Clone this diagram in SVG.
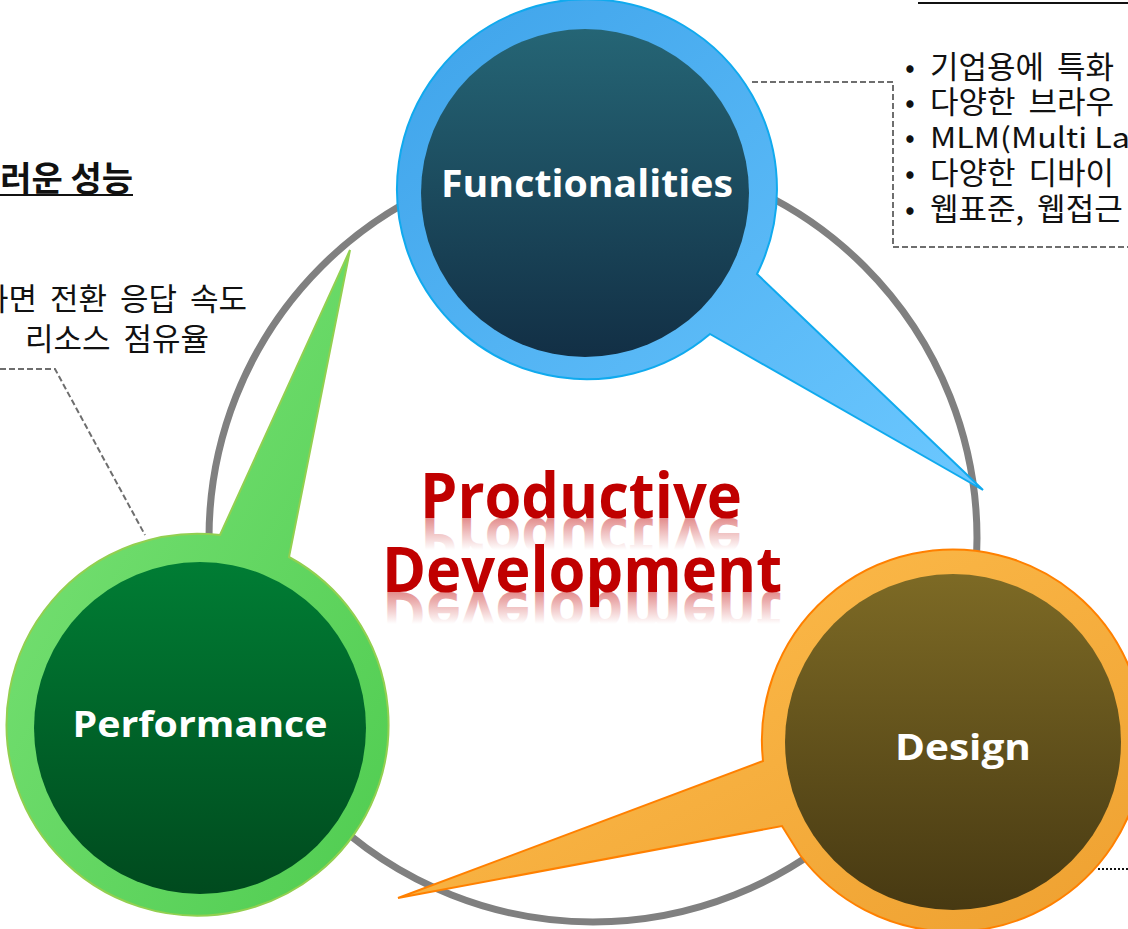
<svg xmlns="http://www.w3.org/2000/svg" width="1128" height="929" viewBox="0 0 1128 929">
<defs>
<style>
.lbl{font-family:"Open Sans","Noto Sans",sans-serif;font-weight:bold;fill:#ffffff;text-anchor:middle}
.kr{font-family:"Noto Sans CJK KR","Noto Sans",sans-serif;font-size:31px;fill:#111111}
.krl{font-family:"Noto Sans CJK KR","Noto Sans",sans-serif;font-size:31px;fill:#111111;text-anchor:end}
.big{font-family:"Open Sans","Noto Sans",sans-serif;font-weight:bold;font-size:62px;text-anchor:middle}
.dash{fill:none;stroke:#6e6e6e;stroke-width:2;stroke-dasharray:6 3}
</style>
<linearGradient id="gBlueO" x1="0" y1="0" x2="1" y2="1">
<stop offset="0" stop-color="#3ea3ea"/><stop offset="1" stop-color="#6cc8ff"/>
</linearGradient>
<linearGradient id="gBlueI" x1="0" y1="0" x2="0" y2="1">
<stop offset="0" stop-color="#256575"/><stop offset="1" stop-color="#122f45"/>
</linearGradient>
<linearGradient id="gGreenO" x1="0" y1="0" x2="1" y2="1">
<stop offset="0" stop-color="#7ee47a"/><stop offset="1" stop-color="#4fcc50"/>
</linearGradient>
<linearGradient id="gGreenI" x1="0" y1="0" x2="0" y2="1">
<stop offset="0" stop-color="#007d34"/><stop offset="1" stop-color="#004a1e"/>
</linearGradient>
<linearGradient id="gOrangeO" x1="0" y1="0" x2="1" y2="1">
<stop offset="0" stop-color="#ffc050"/><stop offset="1" stop-color="#eea030"/>
</linearGradient>
<linearGradient id="gOrangeI" x1="0" y1="0" x2="0" y2="1">
<stop offset="0" stop-color="#7d6a25"/><stop offset="1" stop-color="#473912"/>
</linearGradient>
<linearGradient id="gRef1" gradientUnits="userSpaceOnUse" x1="0" y1="518" x2="0" y2="486">
<stop offset="0" stop-color="#c00000" stop-opacity="0.45"/><stop offset="1" stop-color="#c00000" stop-opacity="0"/>
</linearGradient>
<linearGradient id="gRef2" gradientUnits="userSpaceOnUse" x1="0" y1="592" x2="0" y2="560">
<stop offset="0" stop-color="#c00000" stop-opacity="0.45"/><stop offset="1" stop-color="#c00000" stop-opacity="0"/>
</linearGradient>
</defs>

<rect width="1128" height="929" fill="#ffffff"/>

<g id="cycle-ring">
<circle cx="593" cy="538" r="384" fill="none" stroke="#808080" stroke-width="7"/>
</g>

<g id="connectors">
<polyline class="dash" points="752,82 893,82 893,247 1128,247"/>
<polyline class="dash" points="0,369 55,369 145,535"/>
<line x1="1098" y1="869" x2="1128" y2="869" stroke="#111" stroke-width="2" stroke-dasharray="2 2"/>
</g>

<g id="node-functionalities">
<path d="M710,334 L983,490 L757,274 A190 190 0 1 0 710,334 Z" fill="url(#gBlueO)" stroke="#10aaee" stroke-width="2"/>
<circle cx="585" cy="193" r="164" fill="url(#gBlueI)"/>
<text class="lbl" x="587" y="197" font-size="38" textLength="292" lengthAdjust="spacingAndGlyphs">Functionalities</text>
</g>

<g id="node-performance">
<path d="M220,535 L350,250 L289,557 A191 191 0 1 1 220,535 Z" fill="url(#gGreenO)" stroke="#92d050" stroke-width="2"/>
<circle cx="200" cy="728" r="166" fill="url(#gGreenI)"/>
<text class="lbl" x="200" y="737" font-size="36" textLength="255" lengthAdjust="spacingAndGlyphs">Performance</text>
</g>

<g id="node-design">
<path d="M763,761 L398,898 L782,826 L800,855 A191 191 0 1 0 763,761 Z" fill="url(#gOrangeO)" stroke="#ff8000" stroke-width="2"/>
<circle cx="953" cy="742" r="168" fill="url(#gOrangeI)"/>
<text class="lbl" x="963" y="760" font-size="36" textLength="136" lengthAdjust="spacingAndGlyphs">Design</text>
</g>

<g id="center-title">
<g transform="translate(0,1036) scale(1,-1)">
<text class="big" x="581" y="518" fill="url(#gRef1)" textLength="322" lengthAdjust="spacingAndGlyphs">Productive</text>
</g>
<g transform="translate(0,1184) scale(1,-1)">
<text class="big" x="582" y="592" fill="url(#gRef2)" textLength="400" lengthAdjust="spacingAndGlyphs">Development</text>
</g>
<text class="big" x="581" y="518" fill="#c00000" textLength="322" lengthAdjust="spacingAndGlyphs">Productive</text>
<text class="big" x="582" y="592" fill="#c00000" textLength="400" lengthAdjust="spacingAndGlyphs">Development</text>
</g>

<g id="note-functionalities">
<line x1="918" y1="3" x2="1128" y2="3" stroke="#111" stroke-width="2"/>
<g class="kr">
<text x="905" y="78" font-size="29">•</text><text x="930" y="78" word-spacing="6">기업용에 특화</text>
<text x="905" y="113" font-size="29">•</text><text x="930" y="113" word-spacing="6">다양한 브라우</text>
<text x="905" y="148" font-size="29">•</text><text x="930" y="148" font-size="28" textLength="200" lengthAdjust="spacingAndGlyphs">MLM(Multi La</text>
<text x="905" y="184" font-size="29">•</text><text x="930" y="184" word-spacing="6">다양한 디바이</text>
<text x="905" y="220" font-size="29">•</text><text x="930" y="220" word-spacing="6">웹표준, 웹접근</text>
</g>
</g>

<g id="note-performance">
<text x="133" y="191" font-family="Noto Sans CJK KR, Noto Sans, sans-serif" font-size="34" font-weight="bold" fill="#111" text-anchor="end">러운 성능</text>
<line x1="0" y1="195" x2="133" y2="195" stroke="#111" stroke-width="2"/>
<text class="krl" x="247" y="310" word-spacing="6">화면 전환 응답 속도</text>
<text class="krl" x="209" y="350" word-spacing="6">리소스 점유율</text>
</g>
</svg>
